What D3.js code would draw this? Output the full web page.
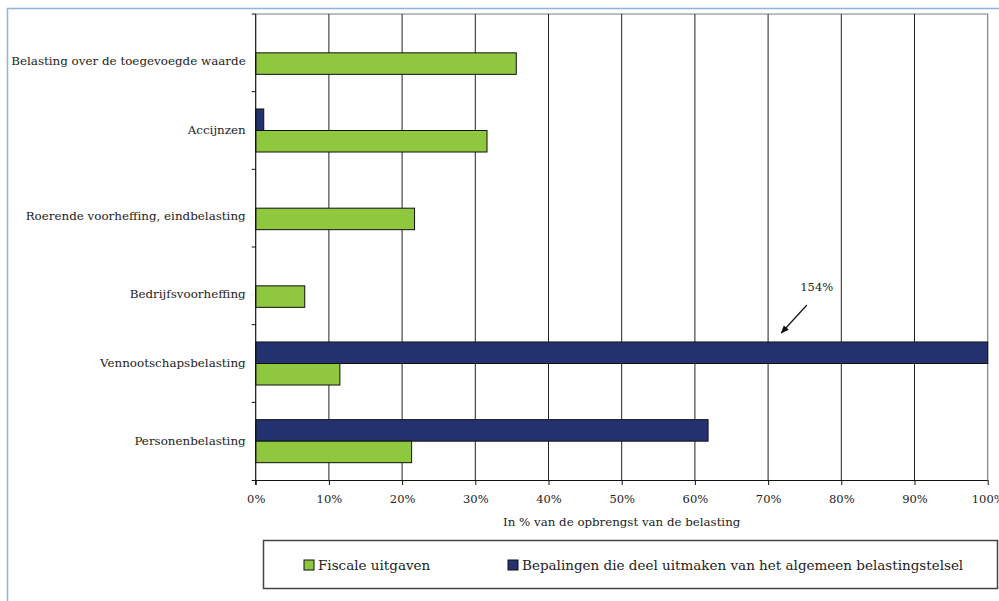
<!doctype html>
<html lang="en">
<head>
    <meta charset="utf-8"/>
    <title>Fiscale uitgaven</title>
    <style>
        body { margin: 0; background: #fff; }
        svg { display: block; }
    </style>
</head>
<body>
    <svg id="chart"></svg>
    <script src="https://d3js.org/d3.v7.min.js"></script>
    <script>
        // data (percent of tax revenue)
        const categories = [
            "Belasting over de toegevoegde waarde",
            "Accijnzen",
            "Roerende voorheffing, eindbelasting",
            "Bedrijfsvoorheffing",
            "Vennootschapsbelasting",
            "Personenbelasting"
        ];
        const fiscaleUitgaven = [35.6, 31.6, 21.7, 6.7, 11.5, 21.3];
        const algemeenStelsel = [0, 1.1, 0, 0, 154, 61.8];
        const xTicks = [0, 10, 20, 30, 40, 50, 60, 70, 80, 90, 100];
        const seriesNames = ["Fiscale uitgaven", "Bepalingen die deel uitmaken van het algemeen belastingstelsel"];
        const seriesColors = ["#8fc73e", "#24336f"];

        const width = 999, height = 601;
        const font = "'DejaVu Serif', serif";

        const svg = d3.select("#chart")
            .attr("width", width)
            .attr("height", height)
            .style("font-family", font);

        // light blue frame (top + left)
        svg.append("path")
            .attr("d", "M7.5,601 V8.5 H999")
            .attr("fill", "none")
            .attr("stroke", "#8db4e2")
            .attr("stroke-width", 1.5);

        const x = d3.scaleLinear().domain([0, 100]).range([255.7, 987.7]).clamp(true);
        const y = d3.scaleBand().domain(categories).range([14, 480]);
        const barH = y.bandwidth() * 0.277;

        const plot = svg.append("g");

        // plot frame top / right in gray
        plot.append("path")
            .attr("d", `M${x(0)},${y.range()[0]} H${x(100)} V${y.range()[1]}`)
            .attr("fill", "none")
            .attr("stroke", "#808080")
            .attr("stroke-width", 1.2);

        // vertical gridlines
        plot.append("g")
            .selectAll("line")
            .data(xTicks.slice(1, -1))
            .join("line")
            .attr("x1", d => x(d)).attr("x2", d => x(d))
            .attr("y1", y.range()[0]).attr("y2", y.range()[1])
            .attr("stroke", "#222")
            .attr("stroke-width", 1);

        // bars
        const rows = categories.map((c, i) => ({c, f: fiscaleUitgaven[i], a: algemeenStelsel[i]}));
        const cy = d => y(d.c) + y.bandwidth() / 2;

        plot.append("g").selectAll("rect")
            .data(rows.filter(d => d.a > 0))
            .join("rect")
            .attr("x", x(0))
            .attr("y", d => cy(d) - barH)
            .attr("width", d => x(d.a) - x(0))
            .attr("height", barH)
            .attr("fill", seriesColors[1])
            .attr("stroke", "#111")
            .attr("stroke-width", 1);

        plot.append("g").selectAll("rect")
            .data(rows)
            .join("rect")
            .attr("x", x(0))
            .attr("y", d => cy(d))
            .attr("width", d => x(d.f) - x(0))
            .attr("height", barH)
            .attr("fill", seriesColors[0])
            .attr("stroke", "#111")
            .attr("stroke-width", 1);

        // x axis
        const xAxis = d3.axisBottom(x)
            .tickValues(xTicks)
            .tickSize(5)
            .tickPadding(10)
            .tickFormat(d => d + "%");
        const gx = svg.append("g")
            .attr("transform", `translate(0,${y.range()[1]})`)
            .call(xAxis);
        gx.select(".domain").attr("d", `M${x(0) - 4},0.5 H${x(100)}`).attr("stroke", "#111");
        gx.selectAll(".tick line").attr("stroke", "#111");
        gx.selectAll(".tick text")
            .attr("font-family", font)
            .attr("font-size", 11.5)
            .attr("fill", "#222");

        // y axis: ticks at category boundaries
        const bounds = categories.map(c => y(c)).concat([y.range()[1]]);
        const gy = svg.append("g");
        gy.append("line")
            .attr("x1", x(0)).attr("x2", x(0))
            .attr("y1", y.range()[0]).attr("y2", y.range()[1] + 5)
            .attr("stroke", "#111").attr("stroke-width", 1.2);
        gy.selectAll(".yt")
            .data(bounds.slice(0, -1))
            .join("line")
            .attr("class", "yt")
            .attr("x1", x(0) - 4).attr("x2", x(0))
            .attr("y1", d => d).attr("y2", d => d)
            .attr("stroke", "#111");
        // labels sit lower where only the green bar is drawn
        gy.selectAll("text")
            .data(rows)
            .join("text")
            .attr("x", x(0) - 10)
            .attr("y", d => cy(d) + (d.a > 0 ? 0 : 8))
            .attr("dy", "0.32em")
            .attr("text-anchor", "end")
            .attr("font-size", 11.9)
            .attr("fill", "#222")
            .text(d => d.c);

        // axis title
        svg.append("text")
            .attr("x", (x(0) + x(100)) / 2)
            .attr("y", y.range()[1] + 46)
            .attr("text-anchor", "middle")
            .attr("font-size", 11.8)
            .attr("fill", "#222")
            .text("In % van de opbrengst van de belasting");

        // 154% annotation with arrow
        const big = rows[4];
        svg.append("defs").append("marker")
            .attr("id", "arrow")
            .attr("viewBox", "0 0 10 10")
            .attr("refX", 9).attr("refY", 5)
            .attr("markerWidth", 7).attr("markerHeight", 7)
            .attr("orient", "auto")
            .append("path")
            .attr("d", "M0,1 L10,5 L0,9 Z")
            .attr("fill", "#111");
        const ay = cy(big) - barH;
        svg.append("line")
            .attr("x1", x(75.3)).attr("y1", ay - 37)
            .attr("x2", x(71.8)).attr("y2", ay - 9)
            .attr("stroke", "#111")
            .attr("stroke-width", 1.2)
            .attr("marker-end", "url(#arrow)");
        svg.append("text")
            .attr("x", x(74.4))
            .attr("y", ay - 51)
            .attr("font-size", 11.5)
            .attr("fill", "#222")
            .text(big.a + "%");

        // legend
        const lg = svg.append("g");
        lg.append("rect")
            .attr("x", 263.5).attr("y", 540.5)
            .attr("width", 734).attr("height", 48)
            .attr("fill", "#fff")
            .attr("stroke", "#444")
            .attr("stroke-width", 1.5);
        const legX = [304, 508];
        const items = lg.selectAll("g.item")
            .data(seriesNames)
            .join("g")
            .attr("class", "item")
            .attr("transform", (d, i) => `translate(${legX[i]},560)`);
        items.append("rect")
            .attr("width", 10).attr("height", 10)
            .attr("fill", (d, i) => seriesColors[i])
            .attr("stroke", "#111");
        items.append("text")
            .attr("x", 14)
            .attr("y", 5)
            .attr("dy", "0.35em")
            .attr("font-size", 13.5)
            .attr("fill", "#222")
            .text(d => d);
    </script>
</body>
</html>
